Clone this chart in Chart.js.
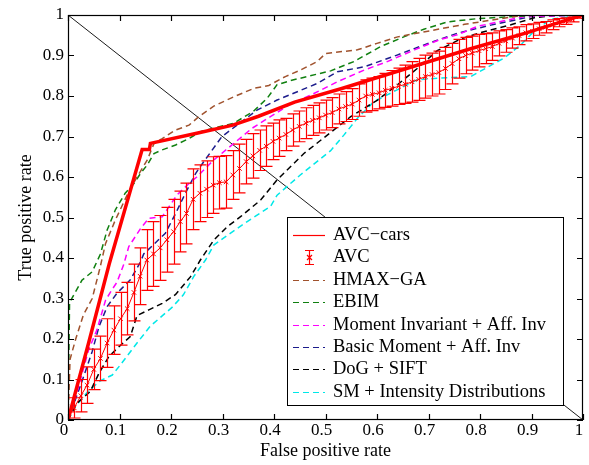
<!DOCTYPE html>
<html>
<head>
<meta charset="utf-8">
<script src="https://cdn.jsdelivr.net/npm/chart.js@4.4.1/dist/chart.umd.min.js"></script>
<style>
  html, body { margin: 0; padding: 0; background: #fff; }
  #roc { display: block; }
</style>
</head>
<body>
<canvas id="roc" width="589" height="465"></canvas>
<script>
// ── DATOS ──
var tickVals   = [0, 0.1, 0.2, 0.3, 0.4, 0.5, 0.6, 0.7, 0.8, 0.9, 1];
var tickLabels = ['0', '0.1', '0.2', '0.3', '0.4', '0.5', '0.6', '0.7', '0.8', '0.9', '1'];

var seriesNames = ['AVC\u2212cars', 'AVC', 'HMAX\u2212GA', 'EBIM', 'Moment Invariant + Aff. Inv',
                   'Basic Moment + Aff. Inv', 'DoG + SIFT', 'SM + Intensity Distributions'];

// diagonal de azar
var chanceX = [0, 1];
var chanceY = [1, 0];

var avcCarsX = [0, 0.04, 0.08, 0.144, 0.158, 0.16, 0.25, 0.32, 0.37, 0.44, 0.53, 0.78, 0.89, 1];
var avcCarsY = [0, 0.19, 0.385, 0.668, 0.668, 0.683, 0.708, 0.728, 0.75, 0.785, 0.818, 0.916, 0.956, 1];

var avcX = [0, 0.012, 0.025, 0.037, 0.05, 0.063, 0.076, 0.089, 0.102, 0.115, 0.128, 0.14, 0.153, 0.166,
            0.179, 0.192, 0.205, 0.218, 0.23, 0.243, 0.256, 0.269, 0.282, 0.294, 0.307, 0.32, 0.333,
            0.346, 0.359, 0.372, 0.385, 0.398, 0.41, 0.423, 0.436, 0.449, 0.462, 0.475, 0.488, 0.5,
            0.513, 0.526, 0.539, 0.552, 0.565, 0.578, 0.591, 0.604, 0.616, 0.629, 0.642, 0.655, 0.668,
            0.681, 0.694, 0.707, 0.72, 0.733, 0.746, 0.759, 0.772, 0.785, 0.798, 0.811, 0.824, 0.837,
            0.85, 0.863, 0.876, 0.889, 0.902, 0.915, 0.928, 0.941, 0.954, 0.967, 0.98, 0.993];
var avcY = [0.01, 0.03, 0.06, 0.086, 0.125, 0.152, 0.19, 0.222, 0.25, 0.275, 0.315, 0.355, 0.395, 0.41,
            0.425, 0.445, 0.465, 0.49, 0.51, 0.545, 0.56, 0.57, 0.58, 0.586, 0.588, 0.605, 0.621,
            0.638, 0.652, 0.666, 0.676, 0.688, 0.696, 0.705, 0.716, 0.725, 0.733, 0.74, 0.746, 0.753,
            0.759, 0.768, 0.774, 0.78, 0.79, 0.8, 0.804, 0.808, 0.814, 0.819, 0.824, 0.829, 0.835,
            0.841, 0.848, 0.853, 0.858, 0.868, 0.88, 0.892, 0.9, 0.906, 0.912, 0.917, 0.922, 0.93,
            0.936, 0.943, 0.949, 0.956, 0.96, 0.966, 0.97, 0.976, 0.981, 0.985, 0.989, 0.996];
var avcErr = [0.01, 0.025, 0.04, 0.045, 0.05, 0.055, 0.06, 0.06, 0.065, 0.065, 0.07, 0.07, 0.075, 0.08,
              0.08, 0.08, 0.08, 0.075, 0.075, 0.075, 0.07, 0.07, 0.07, 0.065, 0.065, 0.06, 0.06,
              0.055, 0.055, 0.05, 0.05, 0.045, 0.045, 0.04, 0.04, 0.038, 0.038, 0.037, 0.037, 0.037,
              0.037, 0.037, 0.037, 0.038, 0.04, 0.04, 0.04, 0.04, 0.042, 0.044, 0.045, 0.047, 0.05,
              0.052, 0.053, 0.053, 0.053, 0.052, 0.05, 0.048, 0.045, 0.042, 0.04, 0.037, 0.034, 0.031,
              0.028, 0.025, 0.022, 0.02, 0.018, 0.016, 0.014, 0.012, 0.01, 0.008, 0.006, 0.004];

var hmaxX = [0, 0.004, 0.015, 0.03, 0.047, 0.062, 0.073, 0.092, 0.115, 0.134, 0.154, 0.167, 0.183, 0.209,
             0.235, 0.254, 0.283, 0.322, 0.361, 0.39, 0.422, 0.448, 0.484, 0.5, 0.562, 0.6, 0.64, 0.69,
             0.77, 0.886, 1];
var hmaxY = [0, 0.15, 0.2, 0.26, 0.3, 0.375, 0.436, 0.494, 0.556, 0.6, 0.642, 0.683, 0.695, 0.716,
             0.728, 0.749, 0.775, 0.798, 0.819, 0.826, 0.848, 0.862, 0.885, 0.905, 0.914, 0.93, 0.946, 0.958,
             0.977, 1, 1];

var ebimX = [0, 0.003, 0.027, 0.047, 0.063, 0.076, 0.092, 0.111, 0.128, 0.141, 0.154, 0.167, 0.183, 0.209,
             0.235, 0.257, 0.322, 0.36, 0.387, 0.406, 0.432, 0.464, 0.51, 0.555, 0.607, 0.652, 0.691,
             0.737, 0.795, 0.918, 1];
var ebimY = [0, 0.29, 0.345, 0.366, 0.41, 0.469, 0.519, 0.56, 0.584, 0.609, 0.63, 0.658, 0.667, 0.679,
             0.695, 0.712, 0.733, 0.762, 0.795, 0.828, 0.838, 0.848, 0.862, 0.885, 0.922, 0.946, 0.965,
             0.983, 0.991, 1, 1];

var momInvX = [0, 0.02, 0.04, 0.056, 0.073, 0.085, 0.095, 0.108, 0.118, 0.141, 0.157, 0.183, 0.212, 0.235,
               0.25, 0.283, 0.322, 0.357, 0.393, 0.432, 0.471, 0.523, 0.575, 0.62, 0.675, 0.724, 0.756,
               0.795, 0.886, 1];
var momInvY = [0, 0.08, 0.173, 0.222, 0.296, 0.321, 0.34, 0.383, 0.428, 0.473, 0.498, 0.502, 0.556, 0.584,
               0.6, 0.642, 0.683, 0.72, 0.749, 0.78, 0.802, 0.835, 0.864, 0.885, 0.915, 0.94, 0.951,
               0.972, 0.996, 1];

var basicX = [0, 0.027, 0.047, 0.06, 0.076, 0.095, 0.121, 0.141, 0.147, 0.189, 0.209, 0.228, 0.248, 0.257,
              0.299, 0.367, 0.406, 0.484, 0.523, 0.575, 0.639, 0.704, 0.756, 0.821, 0.899, 1];
var basicY = [0, 0.095, 0.169, 0.23, 0.28, 0.313, 0.346, 0.391, 0.41, 0.461, 0.51, 0.56, 0.609, 0.626,
              0.7, 0.765, 0.79, 0.831, 0.86, 0.872, 0.901, 0.932, 0.955, 0.975, 0.996, 1];

var dogX = [0, 0.017, 0.043, 0.06, 0.079, 0.099, 0.121, 0.134, 0.157, 0.183, 0.209, 0.238, 0.257, 0.283,
            0.309, 0.335, 0.374, 0.406, 0.458, 0.51, 0.549, 0.601, 0.639, 0.678, 0.717, 0.763, 0.8, 0.86,
            0.905, 0.951, 1];
var dogY = [0, 0.041, 0.07, 0.115, 0.156, 0.181, 0.206, 0.258, 0.272, 0.288, 0.31, 0.354, 0.395, 0.444,
            0.477, 0.502, 0.543, 0.593, 0.658, 0.71, 0.749, 0.79, 0.827, 0.868, 0.912, 0.941, 0.956, 0.976,
            0.993, 1, 1];

var smX = [0, 0.014, 0.04, 0.063, 0.086, 0.101, 0.134, 0.16, 0.202, 0.224, 0.244, 0.267, 0.283, 0.315,
           0.348, 0.393, 0.406, 0.451, 0.51, 0.536, 0.562, 0.594, 0.639, 0.678, 0.717, 0.782, 0.847, 0.879,
           0.905, 0.938, 0.977, 1];
var smY = [0, 0.033, 0.072, 0.097, 0.111, 0.135, 0.19, 0.232, 0.278, 0.309, 0.354, 0.395, 0.432, 0.461,
           0.49, 0.527, 0.555, 0.605, 0.665, 0.704, 0.745, 0.786, 0.815, 0.84, 0.844, 0.848, 0.894, 0.926,
           0.96, 0.99, 0.996, 1];

function pts(xs, ys) {
  return xs.map(function(x, i) { return { x: x, y: ys[i] }; });
}

var FONT = 'Liberation Serif, Times New Roman, serif';
var ROJO = '#ff0000';

function curva(label, xs, ys, color, dash, ancho) {
  return {
    label: label, data: pts(xs, ys), showLine: true, borderColor: color, backgroundColor: color,
    borderWidth: ancho || 1.5, borderDash: dash || [], pointRadius: 0, tension: 0
  };
}

// el primer dataset se pinta encima
var datasets = [
  curva(seriesNames[0], avcCarsX, avcCarsY, ROJO, [], 3.5),
  {
    label: seriesNames[1], data: pts(avcX, avcY), showLine: true, borderColor: ROJO, backgroundColor: ROJO,
    borderWidth: 1, pointStyle: 'crossRot', pointRadius: 3.2, pointBorderWidth: 1, pointBorderColor: ROJO
  },
  curva(seriesNames[2], hmaxX, hmaxY, '#a0522d', [6, 4]),
  curva(seriesNames[3], ebimX, ebimY, '#108010', [6, 4]),
  curva(seriesNames[4], momInvX, momInvY, '#ff00ff', [6, 4]),
  curva(seriesNames[5], basicX, basicY, '#1c1c8c', [6, 4]),
  curva(seriesNames[6], dogX, dogY, '#000000', [6, 4]),
  curva(seriesNames[7], smX, smY, '#00e8e8', [6, 4]),
  curva('', chanceX, chanceY, '#000000', [], 0.9)
];

// barras de error del AVC
var errorBars = {
  id: 'errorBars',
  afterDatasetsDraw: function(chart) {
    var ctx = chart.ctx, xs = chart.scales.x, ys = chart.scales.y, a = chart.chartArea;
    ctx.save();
    ctx.beginPath();
    ctx.rect(a.left, a.top, a.right - a.left, a.bottom - a.top);
    ctx.clip();
    ctx.strokeStyle = ROJO;
    ctx.lineWidth = 1.2;
    ctx.beginPath();
    avcX.forEach(function(x, i) {
      var px = Math.round(xs.getPixelForValue(x)) + 0.5;
      var top = ys.getPixelForValue(avcY[i] + avcErr[i]);
      var bot = ys.getPixelForValue(avcY[i] - avcErr[i]);
      ctx.moveTo(px, top); ctx.lineTo(px, bot);
      ctx.moveTo(px - 6, top); ctx.lineTo(px + 6, top);
      ctx.moveTo(px - 6, bot); ctx.lineTo(px + 6, bot);
    });
    ctx.stroke();
    ctx.restore();
  }
};

// marco de ejes con marcas hacia dentro
var marco = {
  id: 'marco',
  afterDatasetsDraw: function(chart) {
    var ctx = chart.ctx, xs = chart.scales.x, ys = chart.scales.y, a = chart.chartArea;
    ctx.save();
    ctx.strokeStyle = '#000';
    ctx.lineWidth = 1.2;
    ctx.strokeRect(a.left + 0.5, a.top + 0.5, a.right - a.left - 1, a.bottom - a.top - 1);
    ctx.beginPath();
    tickVals.forEach(function(v) {
      var px = Math.round(xs.getPixelForValue(v)) + 0.5;
      ctx.moveTo(px, a.bottom); ctx.lineTo(px, a.bottom - 6);
      ctx.moveTo(px, a.top); ctx.lineTo(px, a.top + 6);
      var py = Math.round(ys.getPixelForValue(v)) + 0.5;
      ctx.moveTo(a.left, py); ctx.lineTo(a.left + 6, py);
      ctx.moveTo(a.right, py); ctx.lineTo(a.right - 6, py);
    });
    ctx.stroke();
    ctx.restore();
  }
};

// leyenda dentro del área
var leyenda = {
  id: 'leyenda',
  afterDraw: function(chart) {
    var ctx = chart.ctx;
    var bx = 287, by = 217, bw = 276, bh = 188;
    ctx.save();
    ctx.fillStyle = '#fff';
    ctx.fillRect(bx, by, bw, bh);
    ctx.strokeStyle = '#000';
    ctx.lineWidth = 1;
    ctx.strokeRect(bx + 0.5, by + 0.5, bw, bh);
    ctx.font = '18.5px ' + FONT;
    ctx.textBaseline = 'middle';
    ctx.textAlign = 'left';
    seriesNames.forEach(function(name, i) {
      var ds = chart.data.datasets[i];
      var cy = Math.round(235 + i * 22.4) + 0.5;
      ctx.strokeStyle = ds.borderColor;
      ctx.lineWidth = 1.2;
      if (i === 1) {
        // muestra de barra de error con marca x
        ctx.setLineDash([]);
        ctx.beginPath();
        ctx.moveTo(309.5, cy - 7); ctx.lineTo(309.5, cy + 7);
        ctx.moveTo(305, cy - 7); ctx.lineTo(314, cy - 7);
        ctx.moveTo(305, cy + 7); ctx.lineTo(314, cy + 7);
        ctx.moveTo(307, cy - 2.5); ctx.lineTo(312, cy + 2.5);
        ctx.moveTo(312, cy - 2.5); ctx.lineTo(307, cy + 2.5);
        ctx.stroke();
      } else {
        ctx.setLineDash(ds.borderDash && ds.borderDash.length ? [6, 4] : []);
        ctx.beginPath();
        ctx.moveTo(293, cy); ctx.lineTo(325, cy);
        ctx.stroke();
      }
      ctx.setLineDash([]);
      ctx.fillStyle = '#000';
      ctx.fillText(name, 333, cy);
    });
    ctx.restore();
  }
};

var fuenteTicks = { family: FONT, size: 17 };
var fuenteTitulo = { family: FONT, size: 18 };

new Chart(document.getElementById('roc'), {
  type: 'scatter',
  data: { datasets: datasets },
  options: {
    responsive: false,
    animation: false,
    layout: { padding: { left: 0, right: 6, top: 15, bottom: 0 } },
    plugins: { legend: { display: false }, tooltip: { enabled: false } },
    scales: {
      x: {
        type: 'linear', min: 0, max: 1,
        afterBuildTicks: function(s) { s.ticks = tickVals.map(function(v) { return { value: v }; }); },
        afterFit: function(s) { s.height = 45; },
        ticks: {
          color: '#000', font: fuenteTicks, padding: 0, labelOffset: -4, maxRotation: 0, autoSkip: false,
          callback: function(v, i) { return tickLabels[i]; }
        },
        grid: { display: false, drawTicks: false },
        border: { display: false },
        title: { display: true, text: 'False positive rate', color: '#000', font: fuenteTitulo, padding: { top: 0, bottom: 3 } }
      },
      y: {
        type: 'linear', min: 0, max: 1,
        afterBuildTicks: function(s) { s.ticks = tickVals.map(function(v) { return { value: v }; }); },
        afterFit: function(s) { s.width = 68; },
        ticks: {
          color: '#000', font: fuenteTicks, padding: 4, autoSkip: false,
          callback: function(v, i) { return tickLabels[i]; }
        },
        grid: { display: false, drawTicks: false },
        border: { display: false },
        title: { display: true, text: 'True positive rate', color: '#000', font: fuenteTitulo, padding: { top: 15, bottom: 0 } }
      }
    }
  },
  plugins: [errorBars, marco, leyenda]
});
</script>
</body>
</html>
